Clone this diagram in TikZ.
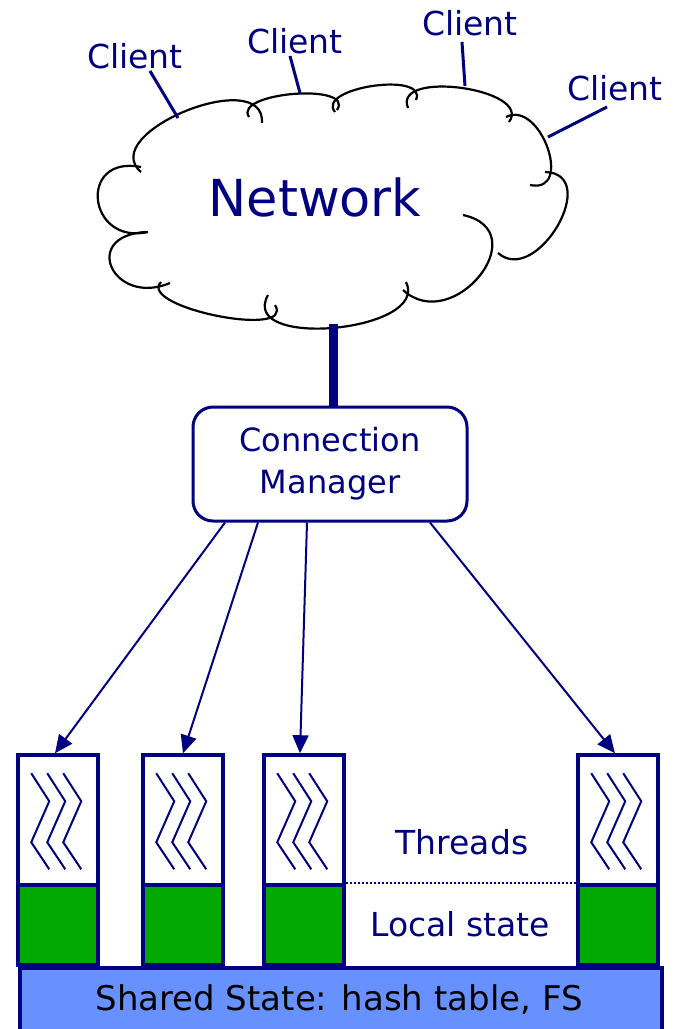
\documentclass[tikz,border=0pt]{standalone}
\usepackage{fontspec}
\setmainfont{DejaVu Sans}
\usetikzlibrary{calc,arrows.meta}
\definecolor{navy}{RGB}{0,0,128}
\definecolor{tgreen}{RGB}{0,168,0}
\definecolor{sblue}{RGB}{102,145,255}
\newcommand\cloudbump[3]{\draw[cloudline] (#1) .. controls ($0.533*(#1)+1.333*(#2)-0.867*(#3)$) and ($0.533*(#3)+1.333*(#2)-0.867*(#1)$) .. (#3);}
\begin{document}
\begin{tikzpicture}[x=1pt,y=-1pt,
  cloudline/.style={black,line width=2.2pt},
  lbl/.style={text=navy,inner sep=0pt,font=\fontsize{33}{38}\selectfont},
  clientline/.style={navy,line width=3pt},
  arr/.style={navy,line width=2pt,-{Triangle[length=18pt,width=16pt]}},
  tbox/.style={draw=navy,line width=3.5pt,fill=white,minimum width=80pt,minimum height=130pt,inner sep=0pt},
  gbox/.style={draw=navy,line width=3.5pt,fill=tgreen,minimum width=80pt,minimum height=80pt,inner sep=0pt},
  zig/.style={navy,line width=2pt}]
\useasboundingbox (0,0) rectangle (676,1029);
% cloud
\cloudbump{141,172}{186,111}{262,123}
\cloudbump{249,117}{294,94}{337,110}
\cloudbump{335,112}{373,86}{416,100}
\cloudbump{408,108}{462,88}{509,122}
\cloudbump{506,117}{548,148}{530,185}
\cloudbump{545,172}{558,226}{498,253}
\cloudbump{463,215}{480,276}{403,290}
\cloudbump{406,282}{335,328}{268,295}
\cloudbump{275,305}{217,316}{161,282}
\cloudbump{170,283}{112,268}{146,232}
\cloudbump{148,232}{98,200}{141,167}
\node[lbl,font=\fontsize{51}{56}\selectfont] (net) at (315,197) {Network};
% clients
\node[lbl] (c1) at (135,56) {Client};
\node[lbl] (c2) at (295,41) {Client};
\node[lbl] (c3) at (470,23) {Client};
\node[lbl] (c4) at (615,88) {Client};
\coordinate (a1) at (178,118);
\coordinate (a2) at (300,93);
\coordinate (a3) at (465,86);
\coordinate (a4) at (548,137);
\draw[clientline] ($(c1.south)+(15,2)$) -- (a1);
\draw[clientline] ($(c2.south)+(-5,2)$) -- (a2);
\draw[clientline] ($(c3.south)+(-8,6)$) -- (a3);
\draw[clientline] ($(c4.south west)+(40,6)$) -- (a4);
% connection manager
\node[draw=navy,line width=3pt,rounded corners=20pt,minimum width=274pt,minimum height=114pt,text=navy,align=center,inner sep=0pt,font=\fontsize{32}{42}\selectfont] (cm) at (330,464) {Connection\\Manager};
\coordinate (cb) at (333,324);
\draw[navy,line width=9pt] (cb) -- (cm.north -| cb);
% thread boxes
\foreach \i/\x in {1/58,2/183,3/304,4/618}{
  \node[gbox] (g\i) at (\x,925) {};
  \node[tbox] (t\i) at (\x,820) {};
  \foreach \d in {0,16,32}{
    \draw[zig] ($(t\i.north west)+(15+\d,20)$) -- ($(t\i.north west)+(33+\d,48)$) -- ($(t\i.north west)+(15+\d,89)$) -- ($(t\i.north west)+(33+\d,116)$);
  }
}
\node[draw=navy,line width=3.5pt,fill=sblue,minimum width=642pt,minimum height=74pt,inner sep=0pt,anchor=north west] (sh) at (18,966) {};
\node[inner sep=0pt,font=\fontsize{34}{40}\selectfont] (shl) at (339,1000) {Shared State: hash table, FS};
\draw[navy,dotted,line width=2pt] (g3.north east) -- (g4.north west);
\node[lbl] (thr) at (462,842) {Threads};
\node[lbl] (loc) at (460,924) {Local state};
% arrows
\draw[arr] ($(cm.south)+(-105,0)$) -- ($(t1.north)+(-3,0)$);
\draw[arr] ($(cm.south)+(-72,0)$) -- (t2.north);
\draw[arr] ($(cm.south)+(-23,0)$) -- ($(t3.north)+(-4,0)$);
\draw[arr] ($(cm.south)+(100,0)$) -- ($(t4.north)+(-3,0)$);
\end{tikzpicture}
\end{document}
